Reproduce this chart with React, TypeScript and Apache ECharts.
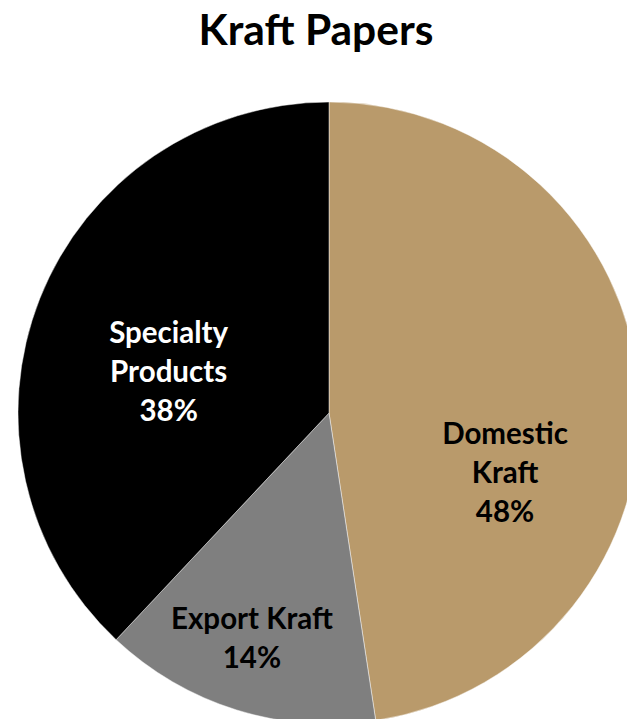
import React, { useEffect, useRef } from "react";
import * as echarts from "echarts";

const titleText = "Kraft Papers";
const categories = ["Domestic Kraft", "Export Kraft", "Specialty Products"];
const labelNames = ["Domestic\nKraft", "Export Kraft", "Specialty\nProducts"];
const values = [47.6, 14.4, 38.0];
const colors = ["#B99A6B", "#7F7F7F", "#000000"];
const labelColors = ["#000000", "#000000", "#FFFFFF"];
const labelOffsets = [
  [18, 70],
  [-30, 73],
  [-13, 16],
];

export default function App() {
  const ref = useRef<HTMLDivElement>(null);
  useEffect(() => {
    if (!ref.current) return;
    const chart = echarts.init(ref.current, undefined, { renderer: "svg" });
    const font = "Lato, 'Open Sans', sans-serif";
    chart.setOption({
      animation: false,
      backgroundColor: "#ffffff",
      title: {
        text: titleText,
        left: 311,
        textAlign: "center",
        top: 2,
        textStyle: { fontFamily: font, fontWeight: "bold", fontSize: 42.5, color: "#000" },
      },
      series: [
        {
          type: "pie",
          center: [329, 413],
          radius: [0, 311],
          startAngle: 90,
          clockwise: true,
          avoidLabelOverlap: false,
          itemStyle: { borderColor: "rgba(255,255,255,0.45)", borderWidth: 1 },
          label: {
            show: true,
            position: "inside",
            fontFamily: font,
            fontWeight: "bold",
            fontSize: 29.5,
            lineHeight: 39,
            align: "center",
          },
          labelLine: { show: false },
          emphasis: { disabled: true },
          data: categories.map((name, i) => ({
            name,
            value: values[i],
            itemStyle: { color: colors[i] },
            label: {
              color: labelColors[i],
              offset: labelOffsets[i],
              formatter: labelNames[i] + "\n" + Math.round(values[i]) + "%",
            },
          })),
        },
      ],
    });
    return () => chart.dispose();
  }, []);
  return (
    <div
      ref={ref}
      style={{ position: "absolute", left: 0, top: 0, width: 627, height: 719 }}
    />
  );
}
